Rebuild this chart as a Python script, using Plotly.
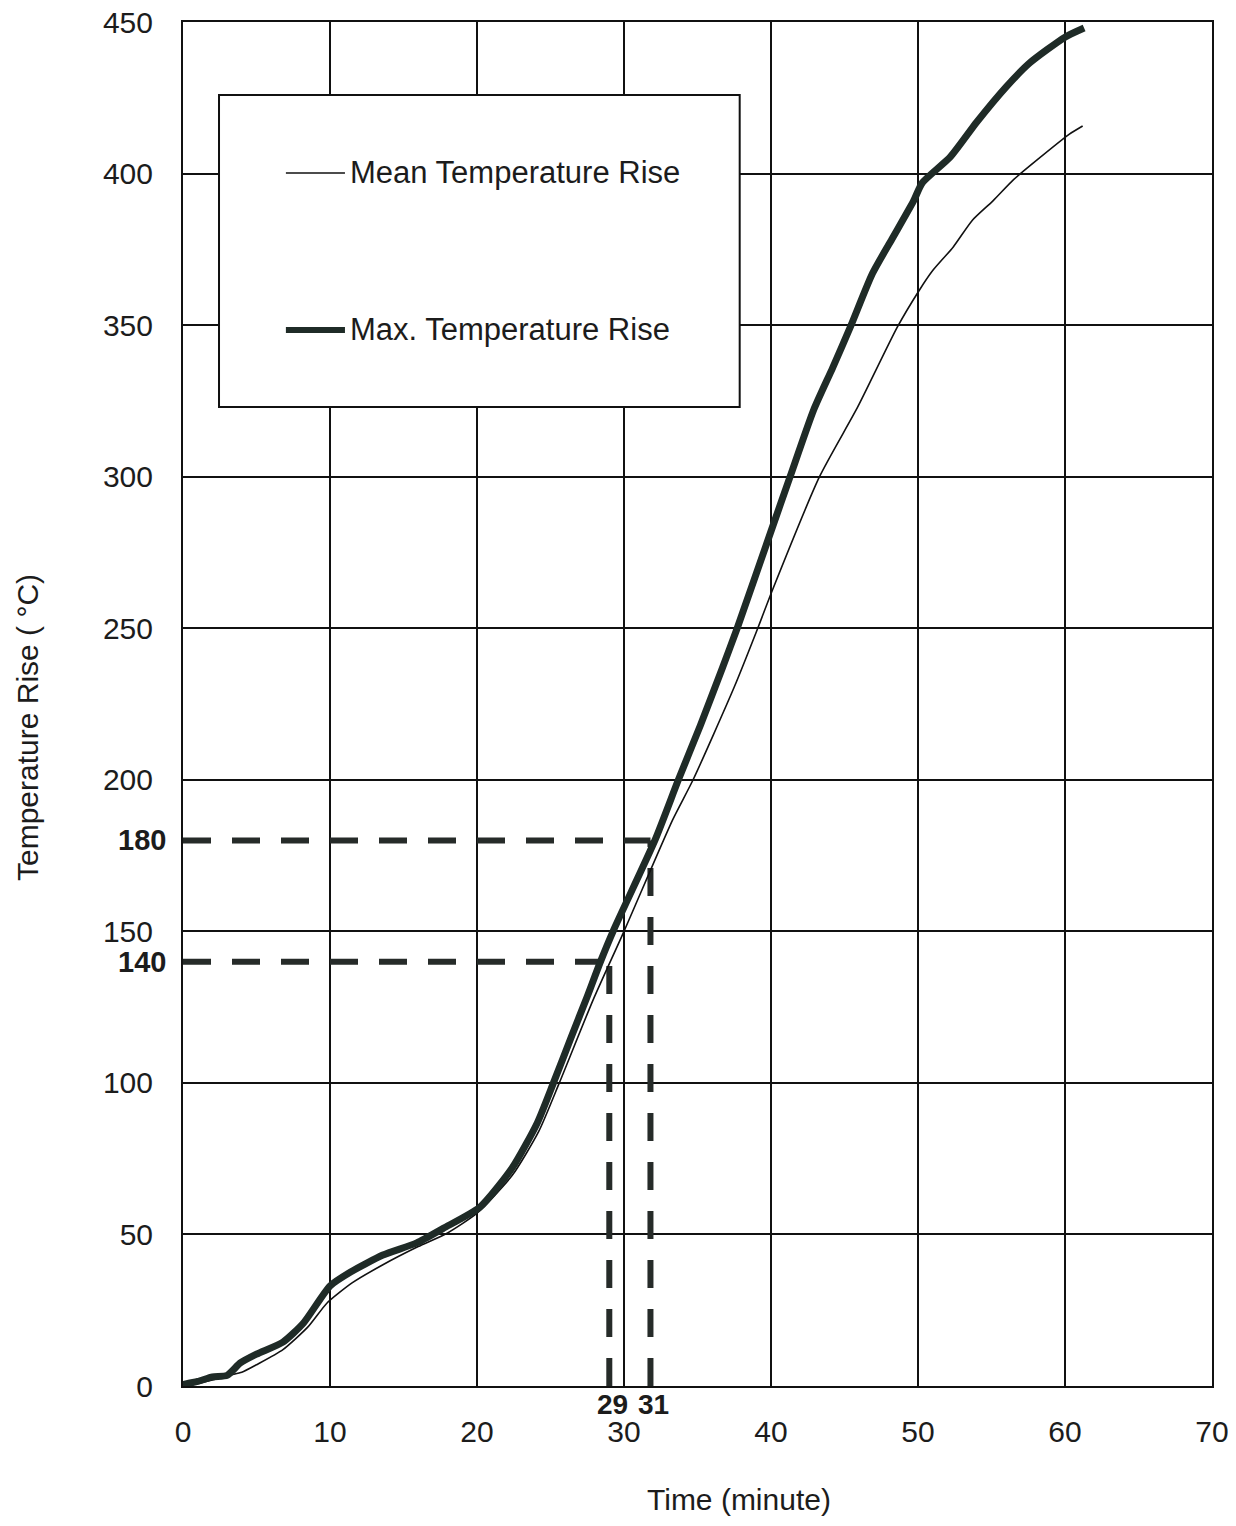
import plotly.graph_objects as go

# ---- data ----
max_time = [0, 1, 2, 3, 3.9, 5, 6.8, 8.2, 10, 11.4, 13.6, 15.9, 17.7, 20.2, 22.4, 24.1,
            25.2, 26.4, 27.5, 28.4, 29.3, 32.1, 33.7, 35.2, 36.7, 37.7, 40, 41.3, 42.9,
            44.2, 45.4, 46.9, 48.3, 49.7, 50.3, 52.2, 54, 56, 57.6, 60, 61.3]
max_rise = [0.5, 1.5, 3, 3.5, 7.6, 10.5, 14.5, 20.8, 33, 37.6, 43.2, 47.2, 52, 59, 72, 86.8,
            100, 115, 128.5, 140, 150.5, 180, 200, 218, 237, 250, 282, 300, 322,
            336, 349.4, 367, 379, 391, 397, 405.5, 417, 428.6, 436.5, 445, 448]

mean_time = [0, 1, 2, 3.2, 4, 5, 6.8, 8.5, 9.8, 11.5, 13.6, 16, 18, 20, 22.4, 24.2, 25.6,
             27.9, 30, 33.3, 34.7, 37.5, 39.1, 40.1, 43.3, 45.9, 48.6, 50.1, 51, 52.4,
             53.7, 55.1, 56.5, 58.1, 60.3, 61.2]
mean_rise = [0, 0.8, 2, 3.6, 4.5, 7, 12, 19.5, 27.4, 34, 40, 46, 50.5, 57, 69.5, 84, 100,
             127.4, 150, 186.7, 200, 230.6, 250, 262.6, 300, 323, 349.4, 361.6, 368, 375.8,
             384.6, 391, 398, 404.5, 413, 415.7]

levels = [140, 180]          # temperature rise levels (°C)
cross_time = [29, 31.8]      # time where the max curve reaches each level
cross_labels = ["29", "31"]
level_labels = ["140", "180"]

x_ticks = [0, 10, 20, 30, 40, 50, 60, 70]
y_ticks = [0, 50, 100, 150, 200, 250, 300, 350, 400, 450]

FONT = "Liberation Sans, Arial, sans-serif"
TXT = "#1c1c1c"
DASHC = "#262b29"

fig = go.Figure()

# dashed guide lines
for lv, ct in zip(levels, cross_time):
    fig.add_trace(go.Scatter(x=[0, ct], y=[lv, lv], mode="lines",
                             line=dict(color=DASHC, width=6, dash="28px,21px"),
                             showlegend=False, hoverinfo="skip"))
    fig.add_trace(go.Scatter(x=[ct, ct], y=[0, lv], mode="lines",
                             line=dict(color=DASHC, width=6, dash="28px,21px"),
                             showlegend=False, hoverinfo="skip"))

fig.add_trace(go.Scatter(x=mean_time, y=mean_rise, mode="lines",
                         name="Mean Temperature Rise",
                         line=dict(color="#111111", width=1.6, shape="spline", smoothing=0.6),
                         showlegend=False))
fig.add_trace(go.Scatter(x=max_time, y=max_rise, mode="lines",
                         name="Max. Temperature Rise",
                         line=dict(color="#1f2b27", width=7, shape="spline", smoothing=0.6),
                         showlegend=False))

# legend box drawn manually
fig.add_shape(type="rect", xref="paper", yref="paper",
              x0=0.035, x1=0.541, y0=0.7177, y1=0.9465,
              line=dict(color="#111111", width=2), fillcolor="white", layer="above")
fig.add_shape(type="line", xref="paper", yref="paper",
              x0=0.100, x1=0.1574, y0=0.8893, y1=0.8893,
              line=dict(color="#111111", width=1.6), layer="above")
fig.add_shape(type="line", xref="paper", yref="paper",
              x0=0.100, x1=0.1574, y0=0.7742, y1=0.7742,
              line=dict(color="#1f2b27", width=6), layer="above")
fig.add_annotation(xref="paper", yref="paper", x=0.1603, y=0.8893,
                   text="Mean Temperature Rise", showarrow=False,
                   xanchor="left", yanchor="middle",
                   font=dict(family=FONT, size=31, color=TXT))
fig.add_annotation(xref="paper", yref="paper", x=0.1603, y=0.7742,
                   text="Max. Temperature Rise", showarrow=False,
                   xanchor="left", yanchor="middle",
                   font=dict(family=FONT, size=31, color=TXT))

# bold level labels on y axis
for lv, lab in zip(levels, level_labels):
    fig.add_annotation(xref="paper", yref="y", x=0, y=lv, text="<b>" + lab + "</b>",
                       showarrow=False, xanchor="right", yanchor="middle", xshift=-15,
                       font=dict(family=FONT, size=29, color=TXT))
# bold crossing labels on x axis
for ct, lab in zip(cross_time, cross_labels):
    fig.add_annotation(xref="x", yref="paper", x=ct, y=0, text="<b>" + lab + "</b>",
                       showarrow=False, xanchor="center", yanchor="top", yshift=-1,
                       xshift=3, font=dict(family=FONT, size=28, color=TXT))

# axis titles
fig.add_annotation(xref="paper", yref="paper", x=0.540, y=0, yshift=-113,
                   text="Time (minute)", showarrow=False,
                   xanchor="center", yanchor="middle",
                   font=dict(family=FONT, size=30, color=TXT))
fig.add_annotation(xref="paper", yref="paper", x=-0.1516, y=0.4824,
                   text="Temperature Rise ( \u00b0C)", showarrow=False, textangle=-90,
                   xanchor="center", yanchor="middle",
                   font=dict(family=FONT, size=30, color=TXT))

axis_common = dict(showgrid=True, gridcolor="#111111", gridwidth=1.6,
                   showline=True, linecolor="#111111", linewidth=2, mirror=True,
                   zeroline=False, ticks="", automargin=False,
                   ticklabeloverflow="allow",
                   tickfont=dict(family=FONT, size=30, color=TXT))

fig.update_xaxes(range=[0, 70], tickvals=x_ticks, ticktext=[str(v) for v in x_ticks],
                 ticklabelstandoff=18, **axis_common)
fig.update_yaxes(range=[0, 450], tickvals=y_ticks, ticktext=[str(v) for v in y_ticks],
                 ticklabelstandoff=22, **axis_common)

fig.update_layout(width=1220, height=1510,
                  margin=dict(l=175, r=16, t=14, b=132),
                  paper_bgcolor="white", plot_bgcolor="white",
                  showlegend=False)

fig.write_html("out.html")
